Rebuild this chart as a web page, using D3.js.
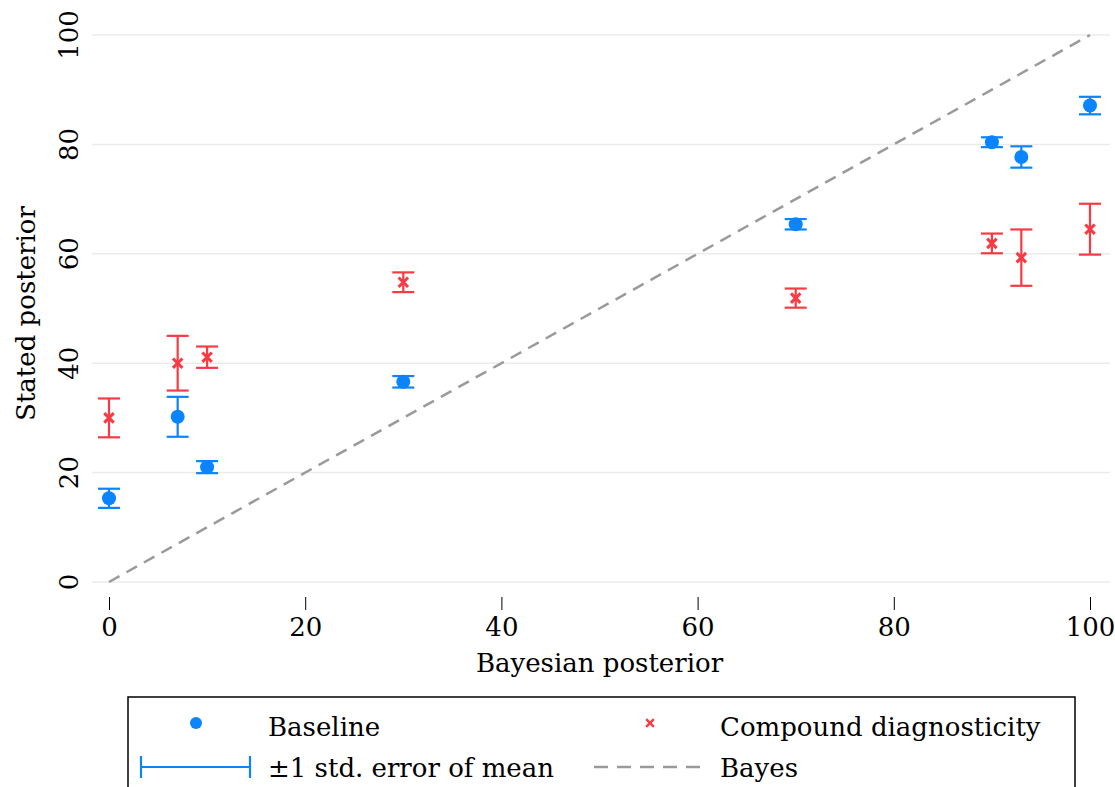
<!DOCTYPE html>
<html>
<head>
<meta charset="utf-8">
<script src="https://cdn.jsdelivr.net/npm/d3@7"></script>
<style>
  html, body { margin: 0; padding: 0; background: #fff; }
  svg { display: block; }
  text { font-family: "DejaVu Serif", "Liberation Serif", serif; fill: #000; }
</style>
</head>
<body>
<svg id="chart" width="1115" height="787"></svg>
<script>
// Bayesian posterior (x) for each scenario
const bayesPosterior = [0, 7, 10, 30, 70, 90, 93, 100];
// Mean stated posterior and its standard error, baseline treatment
const baselineMean = [15.3, 30.2, 21.0, 36.6, 65.4, 80.4, 77.7, 87.1];
const baselineSE   = [1.75, 3.65, 1.1, 1.05, 0.95, 0.9, 1.95, 1.6];
// Mean stated posterior and its standard error, compound diagnosticity treatment
const compoundMean = [30.0, 40.0, 41.1, 54.8, 51.9, 61.9, 59.3, 64.5];
const compoundSE   = [3.55, 5.0, 1.95, 1.8, 1.75, 1.8, 5.15, 4.65];
// Axis ticks
const xTicks = [0, 20, 40, 60, 80, 100];
const yTicks = [0, 20, 40, 60, 80, 100];

const blue = "#0a84ff";
const red = "#f93a42";
const gray = "#9a9a9a";
const fontSize = 26;

const svg = d3.select("#chart");
const x = d3.scaleLinear().domain([0, 100]).range([109, 1090]);
const y = d3.scaleLinear().domain([0, 100]).range([582, 35]);

// horizontal gridlines
svg.append("g").selectAll("line").data(yTicks).join("line")
  .attr("x1", 92).attr("x2", 1110)
  .attr("y1", d => y(d)).attr("y2", d => y(d))
  .attr("stroke", "#ebebeb").attr("stroke-width", 1.5);

// x axis: ticks and labels only
const xAxis = d3.axisBottom(x).tickValues(xTicks).tickSize(13).tickPadding(8).tickFormat(d3.format("d"));
const gx = svg.append("g").attr("transform", "translate(0,597)").call(xAxis);
gx.select(".domain").remove();
gx.selectAll(".tick line").attr("stroke", "#000").attr("stroke-width", 1);
gx.selectAll(".tick text").attr("font-size", fontSize).attr("font-family", "DejaVu Serif");

// y axis labels, rotated
const gy = svg.append("g");
gy.selectAll("text").data(yTicks).join("text")
  .attr("transform", d => `translate(78,${y(d)}) rotate(-90)`)
  .attr("text-anchor", "middle")
  .attr("font-size", fontSize)
  .text(d => d);

// axis titles
svg.append("text").attr("x", x(50)).attr("y", 672).attr("text-anchor", "middle")
  .attr("font-size", fontSize).text("Bayesian posterior");
svg.append("text").attr("transform", `translate(35,${y(50) + 5}) rotate(-90)`)
  .attr("text-anchor", "middle").attr("font-size", fontSize).text("Stated posterior");

// 45-degree Bayes line
svg.append("line")
  .attr("x1", x(0)).attr("y1", y(0)).attr("x2", x(100)).attr("y2", y(100))
  .attr("stroke", gray).attr("stroke-width", 2.5).attr("stroke-dasharray", "12,8");

// error bars
function errorBars(means, ses, color) {
  const g = svg.append("g").attr("stroke", color).attr("stroke-width", 2.2).attr("fill", "none");
  bayesPosterior.forEach((bx, i) => {
    const cx = x(bx), lo = y(means[i] - ses[i]), hi = y(means[i] + ses[i]);
    g.append("line").attr("x1", cx).attr("x2", cx).attr("y1", lo).attr("y2", hi);
    g.append("line").attr("x1", cx - 11).attr("x2", cx + 11).attr("y1", lo).attr("y2", lo);
    g.append("line").attr("x1", cx - 11).attr("x2", cx + 11).attr("y1", hi).attr("y2", hi);
  });
}
errorBars(baselineMean, baselineSE, blue);
errorBars(compoundMean, compoundSE, red);

// baseline markers
svg.append("g").selectAll("circle").data(bayesPosterior).join("circle")
  .attr("cx", d => x(d)).attr("cy", (d, i) => y(baselineMean[i]))
  .attr("r", 7).attr("fill", blue);

// compound diagnosticity markers
const cross = d3.symbol().type(d3.symbolX).size(60);
svg.append("g").selectAll("path").data(bayesPosterior).join("path")
  .attr("transform", (d, i) => `translate(${x(d)},${y(compoundMean[i])})`)
  .attr("d", cross).attr("stroke", red).attr("stroke-width", 3).attr("fill", "none");

// legend
const lg = svg.append("g");
lg.append("rect").attr("x", 128).attr("y", 697).attr("width", 947).attr("height", 110)
  .attr("fill", "#fff").attr("stroke", "#000").attr("stroke-width", 1.5);
lg.append("circle").attr("cx", 196).attr("cy", 723).attr("r", 6).attr("fill", blue);
lg.append("text").attr("x", 268).attr("y", 736).attr("font-size", fontSize).text("Baseline");
lg.append("path").attr("transform", "translate(650,723)").attr("d", d3.symbol().type(d3.symbolX).size(40))
  .attr("stroke", red).attr("stroke-width", 2.4).attr("fill", "none");
lg.append("text").attr("x", 720).attr("y", 736).attr("font-size", fontSize).text("Compound diagnosticity");
const le = lg.append("g").attr("stroke", blue).attr("stroke-width", 2.2);
le.append("line").attr("x1", 141).attr("x2", 250).attr("y1", 767).attr("y2", 767);
le.append("line").attr("x1", 141).attr("x2", 141).attr("y1", 756).attr("y2", 778);
le.append("line").attr("x1", 250).attr("x2", 250).attr("y1", 756).attr("y2", 778);
lg.append("text").attr("x", 268).attr("y", 777).attr("font-size", fontSize).text("±1 std. error of mean");
lg.append("line").attr("x1", 594).attr("x2", 704).attr("y1", 767).attr("y2", 767)
  .attr("stroke", gray).attr("stroke-width", 2.5).attr("stroke-dasharray", "14,9");
lg.append("text").attr("x", 720).attr("y", 777).attr("font-size", fontSize).text("Bayes");
</script>
</body>
</html>
